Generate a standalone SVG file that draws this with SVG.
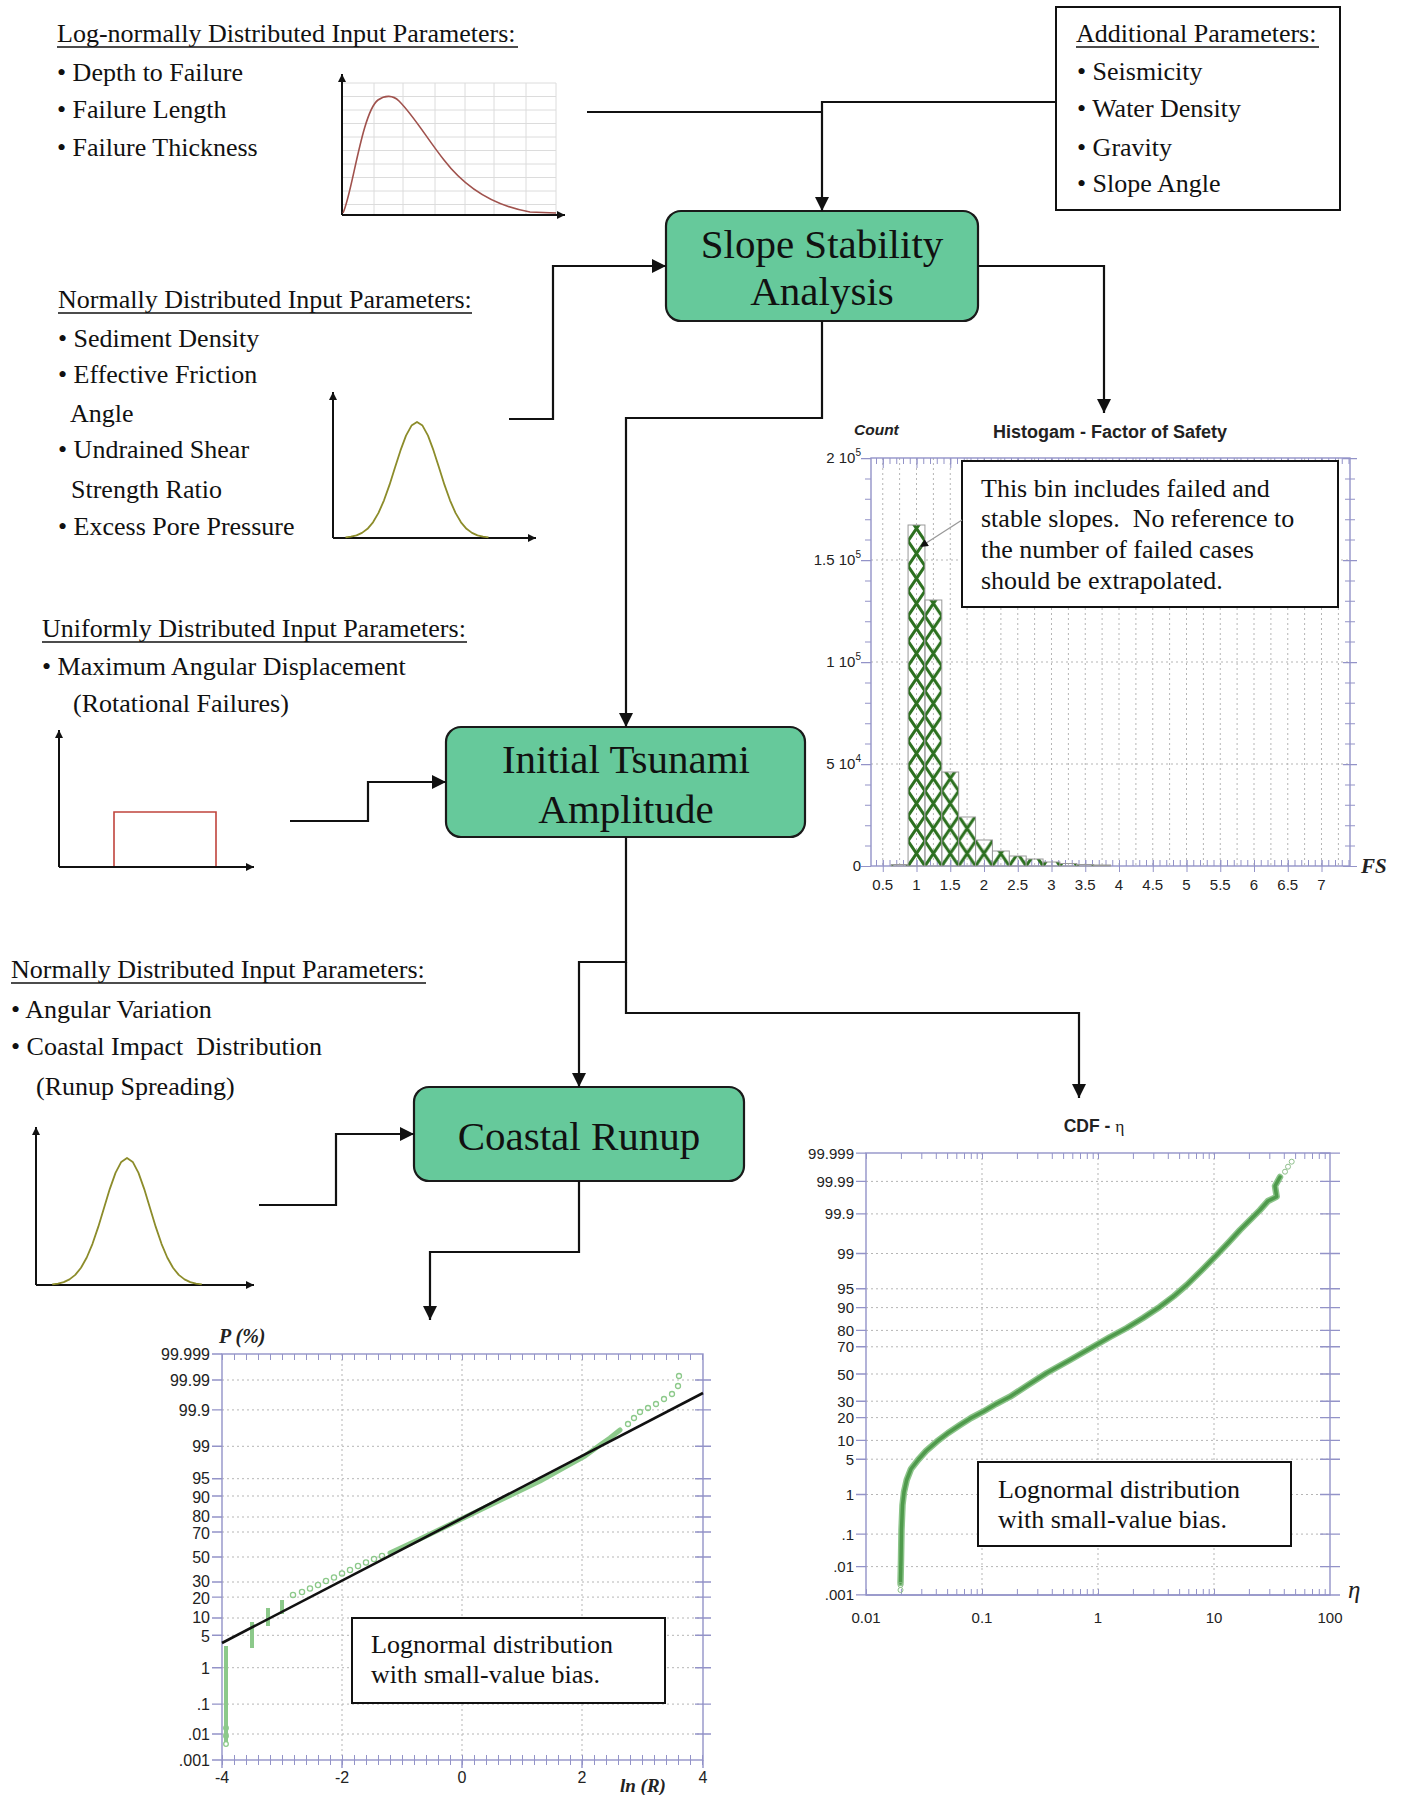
<svg xmlns="http://www.w3.org/2000/svg" width="1403" height="1795" viewBox="0 0 1403 1795">
<style>
.t{font-family:"Liberation Serif","Times New Roman",serif;font-size:26px;fill:#111}
.bx{font-family:"Liberation Serif","Times New Roman",serif;font-size:41px;fill:#111;text-anchor:middle}
.ax{font-family:"Liberation Sans",Arial,sans-serif;font-size:15px;fill:#222}
.axb{font-family:"Liberation Sans",Arial,sans-serif;font-size:16px;fill:#222}
.node{fill:#66c99b;stroke:#1a1a1a;stroke-width:2.2}
.conn{fill:none;stroke:#111;stroke-width:2.2}
.ul{stroke:#111;stroke-width:1.6}
.axis{stroke:#9393c8;stroke-width:1.4;fill:none}
.grid{stroke:#b5b5b5;stroke-width:1;stroke-dasharray:2 3;fill:none}
.note{fill:#fff;stroke:#111;stroke-width:2}
.pre{white-space:pre}
</style>
<defs>
<marker id="arr" viewBox="0 0 10 10" refX="10" refY="5" markerUnits="userSpaceOnUse" markerWidth="15" markerHeight="14" orient="auto"><path d="M0,0 L10,5 L0,10 z" fill="#111"/></marker>
<marker id="arrs" viewBox="0 0 10 10" refX="10" refY="5" markerUnits="userSpaceOnUse" markerWidth="9" markerHeight="8" orient="auto"><path d="M0,0 L10,5 L0,10 z" fill="#111"/></marker>
<marker id="ax" viewBox="0 0 10 10" refX="10" refY="5" markerUnits="userSpaceOnUse" markerWidth="10" markerHeight="8" orient="auto"><path d="M0,0 L10,5 L0,10 z" fill="#111"/></marker>
<pattern id="hatch" patternUnits="userSpaceOnUse" x="908.06" y="866" width="16.875" height="25"><path d="M-16.875,-25 L33.75,50 M33.75,-25 L-16.875,50" stroke="#2c701f" stroke-width="3"/></pattern>
</defs>
<rect width="1403" height="1795" fill="#fff"/>

<!-- Log-normal input block -->
<g id="lognormal-inputs">
<text class="t" x="57" y="42">Log-normally Distributed Input Parameters:</text>
<line class="ul" x1="57" y1="47" x2="518" y2="47"/>
<text class="t" x="57" y="81">• Depth to Failure</text>
<text class="t" x="57" y="118">• Failure Length</text>
<text class="t" x="57" y="156">• Failure Thickness</text>
<g id="lognormal-chart">
<path d="M374,83V215M403,83V215M435,83V215M465,83V215M494,83V215M526,83V215M556,83V215M342,83H556M342,96.5H556M342,110H556M342,123.5H556M342,137H556M342,150.5H556M342,164H556M342,177.5H556M342,191H556M342,204.5H556" stroke="#dcdcdc" stroke-width="1" fill="none"/>
<path d="M342,215V74" stroke="#111" stroke-width="2" marker-end="url(#ax)"/>
<path d="M342,215H565" stroke="#111" stroke-width="2" marker-end="url(#ax)"/>
<path d="M343,213 C352,195 362,112 378,100 C385,95 393,95 399,101 C414,116 428,140 444,160 C464,186 490,205 530,212 L556,213" fill="none" stroke="#a0524d" stroke-width="1.6"/>
</g>
</g>

<!-- Additional parameters -->
<g id="additional-params">
<rect class="note" x="1056" y="7" width="284" height="203"/>
<text class="t" x="1076" y="42">Additional Parameters:</text>
<line class="ul" x1="1076" y1="47" x2="1319" y2="47"/>
<text class="t" x="1077" y="80">• Seismicity</text>
<text class="t" x="1077" y="117">• Water Density</text>
<text class="t" x="1077" y="156">• Gravity</text>
<text class="t" x="1077" y="192">• Slope Angle</text>
</g>

<!-- Normal input block 1 -->
<g id="normal-inputs-1">
<text class="t" x="58" y="308">Normally Distributed Input Parameters:</text>
<line class="ul" x1="58" y1="313" x2="472" y2="313"/>
<text class="t" x="58" y="347">• Sediment Density</text>
<text class="t" x="58" y="383">• Effective Friction</text>
<text class="t" x="70" y="422">Angle</text>
<text class="t" x="58" y="458">• Undrained Shear</text>
<text class="t" x="71" y="498">Strength Ratio</text>
<text class="t" x="58" y="535">• Excess Pore Pressure</text>
<g id="normal-chart-1">
<path d="M333,538V392" stroke="#111" stroke-width="2" marker-end="url(#ax)"/>
<path d="M333,538H536" stroke="#111" stroke-width="2" marker-end="url(#ax)"/>
<polyline points="345.5,537.4 351,536.7 356.5,535.4 362,532.9 367.5,528.8 373,522.3 378.5,512.9 384,500.3 389.5,484.9 395,467.6 400.5,450.4 406,435.6 411.5,425.6 417,422 422.5,425.6 428,435.6 433.5,450.4 439,467.6 444.5,484.9 450,500.3 455.5,512.9 461,522.3 466.5,528.8 472,532.9 477.5,535.4 483,536.7 488.5,537.4" fill="none" stroke="#8c8c2a" stroke-width="1.8" stroke-linejoin="round"/>
</g>
</g>

<!-- Uniform input block -->
<g id="uniform-inputs">
<text class="t" x="42" y="637">Uniformly Distributed Input Parameters:</text>
<line class="ul" x1="42" y1="642" x2="467" y2="642"/>
<text class="t" x="42" y="675">• Maximum Angular Displacement</text>
<text class="t" x="73" y="712">(Rotational Failures)</text>
<g id="uniform-chart">
<path d="M59,867V730" stroke="#111" stroke-width="2" marker-end="url(#ax)"/>
<path d="M59,867H254" stroke="#111" stroke-width="2" marker-end="url(#ax)"/>
<path d="M114,866V812H216V866" fill="none" stroke="#c0443c" stroke-width="1.6"/>
</g>
</g>

<!-- Normal input block 2 -->
<g id="normal-inputs-2">
<text class="t" x="11" y="978">Normally Distributed Input Parameters:</text>
<line class="ul" x1="11" y1="983" x2="426" y2="983"/>
<text class="t" x="11" y="1018">• Angular Variation</text>
<text class="t pre" x="11" y="1055" xml:space="preserve">• Coastal Impact  Distribution</text>
<text class="t" x="36" y="1095">(Runup Spreading)</text>
<g id="normal-chart-2">
<path d="M36,1285V1127" stroke="#111" stroke-width="2" marker-end="url(#ax)"/>
<path d="M36,1285H254" stroke="#111" stroke-width="2" marker-end="url(#ax)"/>
<polyline points="52.25,1284.4 58,1283.6 63.75,1282.1 69.5,1279.4 75.25,1274.9 81,1267.8 86.75,1257.5 92.5,1243.8 98.25,1226.9 104,1208 109.75,1189.1 115.5,1172.9 121.25,1161.9 127,1158 132.75,1161.9 138.5,1172.9 144.25,1189.1 150,1208 155.75,1226.9 161.5,1243.8 167.25,1257.5 173,1267.8 178.75,1274.9 184.5,1279.4 190.25,1282.1 196,1283.6 201.75,1284.4" fill="none" stroke="#8c8c2a" stroke-width="1.8" stroke-linejoin="round"/>
</g>
</g>

<!-- Process nodes -->
<g id="slope-stability">
<rect class="node" x="666" y="211" width="312" height="110" rx="15"/>
<text class="bx" x="822" y="258">Slope Stability</text>
<text class="bx" x="822" y="305">Analysis</text>
</g>
<g id="initial-tsunami">
<rect class="node" x="446" y="727" width="359" height="110" rx="15"/>
<text class="bx" x="626" y="773">Initial Tsunami</text>
<text class="bx" x="626" y="823">Amplitude</text>
</g>
<g id="coastal-runup">
<rect class="node" x="414" y="1087" width="330" height="94" rx="15"/>
<text class="bx" x="579" y="1150">Coastal Runup</text>
</g>

<!-- Connectors -->
<g id="connectors">
<path class="conn" d="M587,112H822"/>
<path class="conn" d="M1056,102H822V211" marker-end="url(#arr)"/>
<path class="conn" d="M509,419H553V266H666" marker-end="url(#arr)"/>
<path class="conn" d="M978,266H1104V413" marker-end="url(#arr)"/>
<path class="conn" d="M822,321V418H626V727" marker-end="url(#arr)"/>
<path class="conn" d="M290,821H368V782H446" marker-end="url(#arr)"/>
<path class="conn" d="M626,837V962H579V1087" marker-end="url(#arr)"/>
<path class="conn" d="M626,962V1013H1079V1098" marker-end="url(#arr)"/>
<path class="conn" d="M259,1205H336V1134H414" marker-end="url(#arr)"/>
<path class="conn" d="M579,1181V1252H430V1320" marker-end="url(#arr)"/>
</g>

<!-- Histogram -->
<g id="histogram">
<text x="854" y="435" font-family="Liberation Sans,Arial,sans-serif" font-size="15.5" font-weight="bold" font-style="italic" fill="#222">Count</text>
<text x="1110" y="438" font-family="Liberation Sans,Arial,sans-serif" font-size="18" font-weight="bold" fill="#222" text-anchor="middle">Histogam - Factor of Safety</text>
<path class="grid" d="M882.75,458V866M899.6,458V866M916.5,458V866M933.4,458V866M950.25,458V866M967.1,458V866M984,458V866M1000.9,458V866M1017.75,458V866M1034.6,458V866M1051.5,458V866M1068.4,458V866M1085.25,458V866M1102.1,458V866M1119,458V866M1135.9,458V866M1152.75,458V866M1169.6,458V866M1186.5,458V866M1203.4,458V866M1220.25,458V866M1237.1,458V866M1254,458V866M1270.9,458V866M1287.75,458V866M1304.6,458V866M1321.5,458V866M1338.4,458V866M871,560H1350M871,662H1350M871,764H1350"/>
<rect x="871" y="458" width="479" height="408" class="axis"/>
<line x1="876" y1="461" x2="1350" y2="461" stroke="#9393c8" stroke-width="6" stroke-dasharray="1 5.75"/>
<line x1="882.75" y1="463" x2="1350" y2="463" stroke="#9393c8" stroke-width="10" stroke-dasharray="1 32.75"/>
<line x1="876" y1="863" x2="1350" y2="863" stroke="#9393c8" stroke-width="6" stroke-dasharray="1 5.75"/>
<line x1="882.75" y1="866" x2="1350" y2="866" stroke="#9393c8" stroke-width="12" stroke-dasharray="1 32.75"/>
<line x1="868" y1="458" x2="868" y2="866" stroke="#9393c8" stroke-width="6" stroke-dasharray="1 19.4"/>
<line x1="866" y1="458" x2="866" y2="867" stroke="#9393c8" stroke-width="10" stroke-dasharray="1.2 100.8"/>
<line x1="1350" y1="458" x2="1350" y2="866" stroke="#9393c8" stroke-width="10" stroke-dasharray="1 19.4"/>
<line x1="1350" y1="458" x2="1350" y2="867" stroke="#9393c8" stroke-width="14" stroke-dasharray="1.2 100.8"/>
<g fill="url(#hatch)" stroke="#9a9a9a" stroke-width="1">
<rect x="891.19" y="864.5" width="16.875" height="1.5"/>
<rect x="908.06" y="525" width="16.875" height="341"/>
<rect x="924.94" y="600" width="16.875" height="266"/>
<rect x="941.81" y="772" width="16.875" height="94"/>
<rect x="958.69" y="817" width="16.875" height="49"/>
<rect x="975.56" y="840" width="16.875" height="26"/>
<rect x="992.44" y="851" width="16.875" height="15"/>
<rect x="1009.31" y="856" width="16.875" height="10"/>
<rect x="1026.19" y="859" width="16.875" height="7"/>
<rect x="1043.06" y="862" width="16.875" height="4"/>
<rect x="1059.94" y="863.5" width="16.875" height="2.5"/>
<rect x="1076.81" y="864.5" width="16.875" height="1.5"/>
<rect x="1093.69" y="865" width="16.875" height="1"/>
</g>
<g class="ax" text-anchor="end">
<text x="861" y="463">2 10<tspan dy="-7" font-size="10">5</tspan></text>
<text x="861" y="565">1.5 10<tspan dy="-7" font-size="10">5</tspan></text>
<text x="861" y="667">1 10<tspan dy="-7" font-size="10">5</tspan></text>
<text x="861" y="769">5 10<tspan dy="-7" font-size="10">4</tspan></text>
<text x="861" y="871">0</text>
</g>
<g class="ax" text-anchor="middle">
<text x="882.75" y="890">0.5</text><text x="916.5" y="890">1</text><text x="950.25" y="890">1.5</text><text x="984" y="890">2</text><text x="1017.75" y="890">2.5</text><text x="1051.5" y="890">3</text><text x="1085.25" y="890">3.5</text><text x="1119" y="890">4</text><text x="1152.75" y="890">4.5</text><text x="1186.5" y="890">5</text><text x="1220.25" y="890">5.5</text><text x="1254" y="890">6</text><text x="1287.75" y="890">6.5</text><text x="1321.5" y="890">7</text>
</g>
<text x="1361" y="873" font-family="Liberation Serif,Times New Roman,serif" font-size="21" font-weight="bold" font-style="italic" fill="#222">FS</text>
<rect class="note" x="962" y="461" width="376" height="146"/>
<text class="t" x="981" y="497">This bin includes failed and</text>
<text class="t pre" x="981" y="527" xml:space="preserve">stable slopes.  No reference to</text>
<text class="t" x="981" y="558">the number of failed cases</text>
<text class="t" x="981" y="589">should be extrapolated.</text>
<path d="M962,520L920,547" stroke="#999" stroke-width="1.3" fill="none" marker-end="url(#arrs)"/>
</g>

<!-- CDF chart -->
<g id="cdf-chart">
<text x="1094" y="1132" font-family="Liberation Sans,Arial,sans-serif" font-size="17.5" font-weight="bold" fill="#222" text-anchor="middle">CDF - <tspan font-family="Liberation Serif,serif" font-weight="normal">η</tspan></text>
<path class="grid" d="M866,1181.4H1330M866,1213.9H1330M866,1253.5H1330M866,1288.8H1330M866,1307.6H1330M866,1330.4H1330M866,1346.8H1330M866,1374H1330M866,1401.2H1330M866,1417.6H1330M866,1440.4H1330M866,1459.2H1330M866,1494.5H1330M866,1534.1H1330M866,1566.6H1330M982,1153V1595M1098,1153V1595M1214,1153V1595"/>
<rect x="866" y="1153" width="464" height="442" class="axis"/>
<line x1="866" y1="1156" x2="1330" y2="1156" stroke="#9393c8" stroke-width="6" stroke-dasharray="1 33.9 1 19.4 1 13.5 1 10.3 1 8.2 1 6.7 1 5.8 1 4.9 1 4.3"/>
<line x1="866" y1="1592" x2="1330" y2="1592" stroke="#9393c8" stroke-width="6" stroke-dasharray="1 33.9 1 19.4 1 13.5 1 10.3 1 8.2 1 6.7 1 5.8 1 4.9 1 4.3"/>
<line x1="866" y1="1595" x2="1340" y2="1595" stroke="#9393c8" stroke-width="1.4"/>
<path d="M856,1153.1H866M856,1181.4H866M856,1213.9H866M856,1253.5H866M856,1288.8H866M856,1307.6H866M856,1330.4H866M856,1346.8H866M856,1374H866M856,1401.2H866M856,1417.6H866M856,1440.4H866M856,1459.2H866M856,1494.5H866M856,1534.1H866M856,1566.6H866M856,1594.9H866M1320,1153.1H1340M1320,1181.4H1340M1320,1213.9H1340M1320,1253.5H1340M1320,1288.8H1340M1320,1307.6H1340M1320,1330.4H1340M1320,1346.8H1340M1320,1374H1340M1320,1401.2H1340M1320,1417.6H1340M1320,1440.4H1340M1320,1459.2H1340M1320,1494.5H1340M1320,1534.1H1340M1320,1566.6H1340" stroke="#9393c8" stroke-width="1.4"/>
<g class="ax" text-anchor="end">
<text x="854" y="1158.6">99.999</text><text x="854" y="1186.9">99.99</text><text x="854" y="1219.4">99.9</text><text x="854" y="1259">99</text><text x="854" y="1294.3">95</text><text x="854" y="1313.1">90</text><text x="854" y="1335.9">80</text><text x="854" y="1352.3">70</text><text x="854" y="1379.5">50</text><text x="854" y="1406.7">30</text><text x="854" y="1423.1">20</text><text x="854" y="1445.9">10</text><text x="854" y="1464.7">5</text><text x="854" y="1500">1</text><text x="854" y="1539.6">.1</text><text x="854" y="1572.1">.01</text><text x="854" y="1600.4">.001</text>
</g>
<g class="ax" text-anchor="middle">
<text x="866" y="1623">0.01</text><text x="982" y="1623">0.1</text><text x="1098" y="1623">1</text><text x="1214" y="1623">10</text><text x="1330" y="1623">100</text>
</g>
<text x="1348" y="1598" font-family="Liberation Serif,Times New Roman,serif" font-size="25" font-style="italic" fill="#222">η</text>
<polyline points="900.5,1583 901,1560 901.5,1530 902.5,1505 904,1492 906.7,1480 911,1469 918,1460 926,1451 936.7,1441.7 948,1433 960,1425 971,1418 983,1411.7 996,1404 1010,1396.7 1028,1385 1046.7,1373 1070,1360 1093,1346.7 1110,1337 1126.7,1328 1143,1318 1160,1306.7 1174,1296 1186.7,1285 1201,1271 1216.7,1255 1229,1242 1240,1230 1251,1219 1260,1210 1268,1201 1276.7,1196.7 1275,1186 1280,1177" fill="none" stroke="#8cc48a" stroke-width="6.5" stroke-linejoin="round" stroke-linecap="round"/>
<polyline points="900.5,1583 901,1560 901.5,1530 902.5,1505 904,1492 906.7,1480 911,1469 918,1460 926,1451 936.7,1441.7 948,1433 960,1425 971,1418 983,1411.7 996,1404 1010,1396.7 1028,1385 1046.7,1373 1070,1360 1093,1346.7 1110,1337 1126.7,1328 1143,1318 1160,1306.7 1174,1296 1186.7,1285 1201,1271 1216.7,1255 1229,1242 1240,1230 1251,1219 1260,1210 1268,1201 1276.7,1196.7 1275,1186 1280,1177" fill="none" stroke="#4f9a4c" stroke-width="3.5" stroke-linejoin="round" stroke-linecap="round"/>
<g fill="none" stroke="#8fbf8c" stroke-width="1">
<circle cx="900.5" cy="1590" r="2.5"/><circle cx="900.5" cy="1585" r="2.5"/><circle cx="1285" cy="1171.7" r="2.5"/><circle cx="1288" cy="1166.7" r="2.5"/><circle cx="1291.7" cy="1161.7" r="2.5"/>
</g>
<rect class="note" x="978" y="1462" width="313" height="84"/>
<text class="t" x="998" y="1498">Lognormal distribution</text>
<text class="t" x="998" y="1528">with small-value bias.</text>
</g>

<!-- Runup probability chart -->
<g id="runup-chart">
<text x="219" y="1343" font-family="Liberation Serif,Times New Roman,serif" font-size="20" font-weight="bold" font-style="italic" fill="#222">P (%)</text>
<path class="grid" d="M222,1380H703M222,1409.9H703M222,1446.3H703M222,1478.7H703M222,1496H703M222,1517H703M222,1532H703M222,1557H703M222,1582H703M222,1597.1H703M222,1618H703M222,1635.3H703M222,1667.7H703M222,1704.1H703M222,1734H703M342,1354V1760M462,1354V1760M582,1354V1760"/>
<rect x="222" y="1354" width="481" height="406" class="axis"/>
<line x1="222" y1="1357" x2="703" y2="1357" stroke="#9393c8" stroke-width="6" stroke-dasharray="1 11"/>
<line x1="222" y1="1760" x2="703" y2="1760" stroke="#9393c8" stroke-width="10" stroke-dasharray="1 11"/>
<path d="M212,1354H222M212,1380H222M212,1409.9H222M212,1446.3H222M212,1478.7H222M212,1496H222M212,1517H222M212,1532H222M212,1557H222M212,1582H222M212,1597.1H222M212,1618H222M212,1635.3H222M212,1667.7H222M212,1704.1H222M212,1734H222M212,1760H222M695,1380H711M695,1409.9H711M695,1446.3H711M695,1478.7H711M695,1496H711M695,1517H711M695,1532H711M695,1557H711M695,1582H711M695,1597.1H711M695,1618H711M695,1635.3H711M695,1667.7H711M695,1704.1H711M695,1734H711M222,1760V1768M342,1760V1768M462,1760V1768M582,1760V1768M703,1760V1768" stroke="#9393c8" stroke-width="1.4"/>
<g class="axb" text-anchor="end">
<text x="210" y="1360">99.999</text><text x="210" y="1386">99.99</text><text x="210" y="1415.9">99.9</text><text x="210" y="1452.3">99</text><text x="210" y="1484">95</text><text x="210" y="1502.5">90</text><text x="210" y="1521.5">80</text><text x="210" y="1539">70</text><text x="210" y="1563">50</text><text x="210" y="1586.5">30</text><text x="210" y="1604">20</text><text x="210" y="1623">10</text><text x="210" y="1641.5">5</text><text x="210" y="1673.7">1</text><text x="210" y="1710.1">.1</text><text x="210" y="1740">.01</text><text x="210" y="1766">.001</text>
</g>
<g class="axb" text-anchor="middle">
<text x="222" y="1783">-4</text><text x="342" y="1783">-2</text><text x="462" y="1783">0</text><text x="582" y="1783">2</text><text x="703" y="1783">4</text>
</g>
<text x="620" y="1792" font-family="Liberation Serif,Times New Roman,serif" font-size="19" font-weight="bold" font-style="italic" fill="#222">ln (R)</text>
<path d="M226,1742V1646M252,1648V1622M268,1626V1608M282,1614V1600" stroke="#8cc98a" stroke-width="4"/>
<path d="M390,1553 L420,1539 L450,1524.5 L480,1510 L510,1495.5 L540,1481 L565,1467 L585,1456 L600,1445 L610,1438 L620,1430" fill="none" stroke="#8cc98a" stroke-width="5" stroke-linejoin="round" stroke-linecap="round"/>
<g fill="none" stroke="#8cc98a" stroke-width="1.3">
<circle cx="226" cy="1744" r="2.3"/><circle cx="226" cy="1736" r="2.3"/><circle cx="226" cy="1728" r="2.3"/><circle cx="293" cy="1595" r="2.6"/><circle cx="302" cy="1592" r="2.6"/><circle cx="310" cy="1588.5" r="2.6"/><circle cx="318" cy="1585" r="2.6"/><circle cx="326" cy="1581" r="2.6"/><circle cx="334" cy="1577.5" r="2.6"/><circle cx="342" cy="1573.5" r="2.6"/><circle cx="350" cy="1570" r="2.6"/><circle cx="358" cy="1566" r="2.6"/><circle cx="366" cy="1562.5" r="2.6"/><circle cx="374" cy="1559" r="2.6"/><circle cx="382" cy="1556" r="2.6"/><circle cx="628" cy="1424" r="2.5"/><circle cx="634" cy="1418" r="2.5"/><circle cx="640" cy="1412" r="2.5"/><circle cx="648" cy="1408" r="2.5"/><circle cx="656" cy="1404" r="2.5"/><circle cx="664" cy="1399" r="2.5"/><circle cx="672" cy="1394" r="2.5"/><circle cx="678" cy="1386" r="2.5"/><circle cx="679" cy="1376" r="2.5"/>
</g>
<line x1="222" y1="1643" x2="703" y2="1393" stroke="#111" stroke-width="2.6"/>
<rect class="note" x="352" y="1618" width="313" height="85"/>
<text class="t" x="371" y="1653">Lognormal distribution</text>
<text class="t" x="371" y="1683">with small-value bias.</text>
</g>
</svg>
